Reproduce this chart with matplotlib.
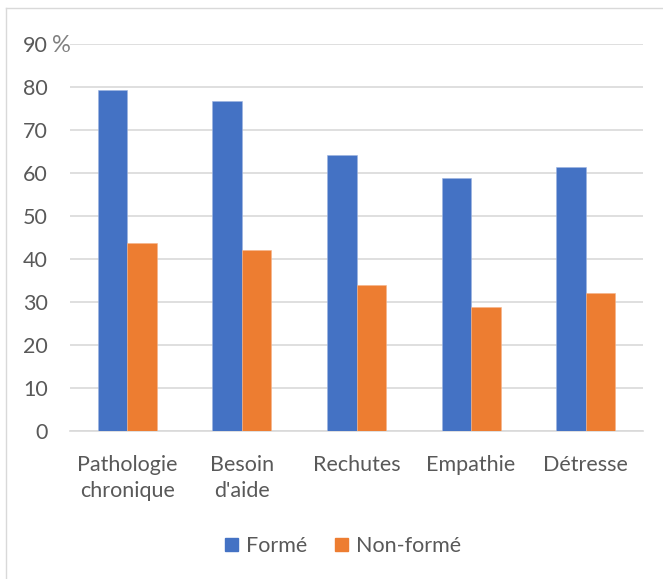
import matplotlib.pyplot as plt
import numpy as np
from matplotlib.lines import Line2D

# data
categories = ['Pathologie\nchronique', "Besoin\nd'aide", 'Rechutes', 'Empathie', 'Détresse']
forme = [79.2, 76.8, 64.1, 58.8, 61.4]
non_forme = [43.8, 42.2, 33.9, 28.9, 32.2]
yticks = [0, 10, 20, 30, 40, 50, 60, 70, 80, 90]

blue = '#4472C4'
orange = '#ED7D31'
txt = '#595959'
grid = '#D9D9D9'

plt.rcParams['font.family'] = ['Lato', 'DejaVu Sans']

fig = plt.figure(figsize=(6.63, 5.79), dpi=100, facecolor='w')
W, H = 663, 579
ax = fig.add_axes([70 / W, 1 - 431 / H, (643 - 70) / W, (431 - 44) / H])

x = np.arange(len(categories))
w = 0.257
ax.bar(x - w / 2, forme, w, color=blue, edgecolor='#9DB4E0', linewidth=0.4, zorder=3)
ax.bar(x + w / 2, non_forme, w, color=orange, edgecolor='#F5B48A', linewidth=0.4, zorder=3)

ax.set_xlim(-0.5, len(categories) - 0.5)
ax.set_ylim(0, 90)
ax.set_yticks(yticks)
ax.set_yticklabels([str(v) for v in yticks])
ax.set_xticks(x)
ax.set_xticklabels(categories, linespacing=1.4, va='top')
ax.tick_params(axis='y', length=0, pad=16, labelsize=15.5, labelcolor=txt)
ax.tick_params(axis='x', length=0, pad=17, labelsize=15.5, labelcolor=txt)
ax.grid(axis='y', color=grid, lw=1.2, zorder=0)
for s in ('top', 'right', 'left'):
    ax.spines[s].set_visible(False)
ax.spines['bottom'].set_color(grid)
ax.spines['bottom'].set_linewidth(1.2)

# percent sign next to the top tick
fig.text(52 / W, 1 - 45 / H, '%', fontsize=17, color='#808080', va='center', ha='left')

# outer frame (only left and top visible in the reference)
fig.add_artist(Line2D([5.5 / W, 5.5 / W], [0, 1 - 8 / H], color='#D9D9D9', lw=1, transform=fig.transFigure))
fig.add_artist(Line2D([5.5 / W, 1], [1 - 8 / H, 1 - 8 / H], color='#D9D9D9', lw=1, transform=fig.transFigure))

handles = [plt.Rectangle((0, 0), 1, 1, color=blue), plt.Rectangle((0, 0), 1, 1, color=orange)]
fig.legend(handles, ['Formé', 'Non-formé'], loc='center', bbox_to_anchor=(343 / W, 1 - 546 / H),
           ncol=2, frameon=False, fontsize=15.5, labelcolor=txt, handlelength=0.6, handleheight=0.6,
           handletextpad=0.35, columnspacing=1.3)

plt.savefig('out.png', dpi=100, facecolor='w')
